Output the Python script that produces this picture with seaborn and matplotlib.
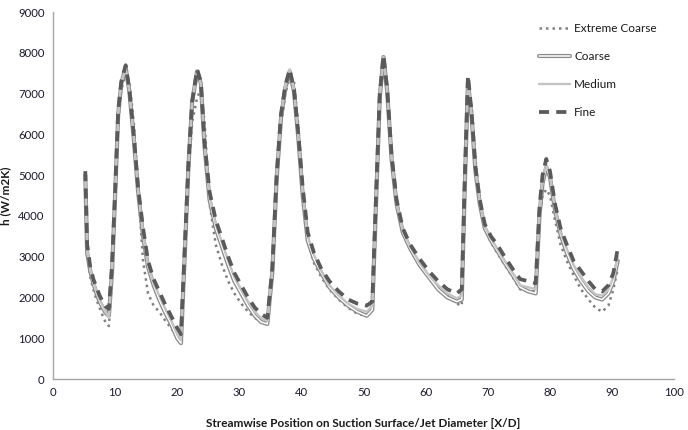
import matplotlib
matplotlib.use("Agg")
import matplotlib.pyplot as plt
from matplotlib.lines import Line2D
import matplotlib.patheffects as pe
import seaborn as sns
import pandas as pd

x_pos = [5.2, 5.5, 6.0, 6.5, 7.0, 7.5, 8.0, 8.5, 9.0, 9.5, 10.0, 10.5, 11.0, 11.7, 12.3, 13.0, 13.7, 14.5, 15.3, 16.2,
         17.1, 18.0, 19.0, 20.0, 20.6, 21.2, 21.8, 22.4, 23.2, 23.8, 24.4, 25.2, 26.2, 27.2, 28.2, 29.2, 30.3, 31.4, 32.5, 33.5,
         34.5, 35.3, 36.0, 36.7, 37.4, 38.1, 38.8, 39.5, 40.2, 41.0, 42.0, 43.2, 44.5, 46.0, 47.5, 49.0, 50.5, 51.4, 52.0, 52.6,
         53.2, 53.8, 54.5, 55.3, 56.3, 57.5, 59.0, 60.5, 62.0, 63.5, 65.0, 65.8, 66.3, 66.8, 67.4, 68.0, 68.7, 69.5, 70.5, 71.5,
         72.7, 74.0, 75.2, 76.5, 77.7, 78.3, 78.8, 79.4, 80.0, 80.8, 81.7, 82.7, 83.8, 85.0, 86.2, 87.3, 88.4, 89.4, 90.2, 90.9]

extreme_coarse = [4900, 3000, 2500, 2200, 1950, 1750, 1550, 1380, 1300, 2500, 4300, 6300, 7100, 7500, 7300, 6300, 4700, 2900, 2100, 1800,
                  1650, 1450, 1250, 1050, 950, 2900, 5000, 6300, 6900, 7100, 6300, 4300, 3300, 2800, 2400, 2100, 1850, 1650, 1500, 1400,
                  1380, 2800, 4800, 6200, 7000, 7400, 7300, 6200, 4700, 3400, 2850, 2500, 2200, 1950, 1750, 1600, 1550, 1800, 4600, 7100,
                  7800, 7200, 5600, 4400, 3650, 3200, 2800, 2500, 2250, 2050, 1850, 1800, 4600, 7000, 6700, 5400, 4400, 3700, 3350, 3100,
                  2800, 2500, 2200, 2150, 2150, 3900, 4500, 4650, 4500, 3900, 3300, 2900, 2550, 2200, 1950, 1750, 1650, 1800, 2200, 2700]

coarse = [5000, 3100, 2650, 2350, 2100, 1900, 1750, 1620, 1550, 2600, 4500, 6500, 7250, 7650, 7050, 5900, 4600, 3500, 2750, 2300,
          1950, 1650, 1350, 1000, 880, 3000, 5200, 6800, 7550, 7250, 5700, 4400, 3700, 3250, 2800, 2400, 2100, 1800, 1550, 1400,
          1350, 2600, 4900, 6400, 7150, 7550, 7050, 5900, 4500, 3400, 2950, 2600, 2250, 2000, 1800, 1650, 1550, 1700, 4300, 6900,
          7900, 7050, 5400, 4300, 3600, 3200, 2800, 2500, 2200, 2000, 1900, 1950, 4800, 7300, 6400, 5100, 4300, 3700, 3400, 3150,
          2850, 2550, 2250, 2150, 2100, 4000, 4800, 5200, 4950, 4150, 3550, 3100, 2700, 2400, 2150, 2000, 1950, 2100, 2400, 2900]

medium = [5050, 3200, 2700, 2400, 2150, 1950, 1800, 1650, 1500, 2700, 4550, 6550, 7300, 7600, 7050, 5950, 4650, 3600, 2800, 2350,
          2050, 1750, 1450, 1100, 950, 3100, 5250, 6800, 7550, 7250, 5750, 4500, 3800, 3350, 2900, 2500, 2200, 1900, 1650, 1500,
          1420, 2650, 4950, 6450, 7200, 7600, 7100, 5950, 4600, 3500, 3050, 2650, 2300, 2050, 1850, 1720, 1650, 1800, 4400, 6950,
          7900, 7050, 5450, 4350, 3650, 3250, 2850, 2550, 2300, 2100, 1980, 2050, 4900, 7350, 6450, 5150, 4350, 3750, 3450, 3200,
          2900, 2600, 2300, 2250, 2200, 4100, 4900, 5250, 5000, 4200, 3600, 3200, 2800, 2500, 2250, 2080, 2050, 2200, 2500, 3000]

fine = [5100, 3300, 2750, 2450, 2250, 2050, 1900, 1780, 1720, 2800, 4600, 6600, 7300, 7700, 7100, 6000, 4700, 3700, 2900, 2450,
        2150, 1850, 1550, 1250, 1100, 3200, 5300, 6800, 7600, 7300, 5800, 4600, 3900, 3450, 3000, 2600, 2300, 2000, 1750, 1600,
        1500, 2700, 5000, 6500, 7200, 7600, 7100, 6000, 4700, 3600, 3100, 2700, 2400, 2150, 1950, 1850, 1800, 1900, 4500, 7000,
        7950, 7100, 5500, 4400, 3700, 3300, 2950, 2650, 2400, 2200, 2100, 2200, 5000, 7450, 6500, 5200, 4400, 3800, 3500, 3300,
        3000, 2700, 2450, 2400, 2350, 4200, 5000, 5400, 5100, 4300, 3700, 3300, 2900, 2650, 2400, 2200, 2150, 2300, 2600, 3200]

series_names = ["Extreme Coarse", "Coarse", "Medium", "Fine"]
x_ticks = [0, 10, 20, 30, 40, 50, 60, 70, 80, 90, 100]
y_ticks = [0, 1000, 2000, 3000, 4000, 5000, 6000, 7000, 8000, 9000]

df = pd.DataFrame({"x": x_pos, "Extreme Coarse": extreme_coarse, "Coarse": coarse,
                   "Medium": medium, "Fine": fine})

sns.set_theme(style="white")
plt.rcParams['font.family'] = ['Lato', 'DejaVu Sans']

fig = plt.figure(figsize=(6.88, 4.30), dpi=100)
ax = fig.add_axes([0.077, 0.1186, 0.903, 0.853])

c_ext = "#808080"
c_coarse = "#8c8c8c"
c_med = "#c4c4c4"
c_fine = "#5a5a5a"

ext_ls = (0, (1, 1.6))
fine_ls = (0, (2.7, 1.9))
coarse_pe = [pe.Stroke(linewidth=3.0, foreground=c_coarse), pe.Normal()]

sns.lineplot(data=df, x="x", y="Extreme Coarse", ax=ax, color=c_ext, lw=1.8,
             linestyle=ext_ls, estimator=None, sort=False)
sns.lineplot(data=df, x="x", y="Coarse", ax=ax, color="white", lw=1.1,
             path_effects=coarse_pe, estimator=None, sort=False)
sns.lineplot(data=df, x="x", y="Medium", ax=ax, color=c_med, lw=1.7,
             estimator=None, sort=False)
sns.lineplot(data=df, x="x", y="Fine", ax=ax, color=c_fine, lw=2.7,
             linestyle=fine_ls, estimator=None, sort=False)

ax.set_xlim(0, 100)
ax.set_ylim(0, 9000)
ax.set_xticks(x_ticks)
ax.set_yticks(y_ticks)
ax.tick_params(axis="both", length=0, labelsize=8.2, colors="#1a1a2e", pad=6)
ax.set_xlabel("Streamwise Position on Suction Surface/Jet Diameter [X/D]",
              fontsize=8.5, fontweight="bold", color="#1a1a1a")
ax.set_ylabel("h (W/m2K)", fontsize=8.5, fontweight="bold", color="#1a1a1a")
ax.yaxis.set_label_coords(-0.068, 0.5)
ax.xaxis.set_label_coords(0.5, -0.105)
for s in ["top", "right"]:
    ax.spines[s].set_visible(False)
for s in ["left", "bottom"]:
    ax.spines[s].set_color("#a6a6a6")
    ax.spines[s].set_linewidth(1.0)

h_ext = Line2D([], [], color=c_ext, lw=1.8, linestyle=ext_ls)
h_coarse = Line2D([], [], color="white", lw=1.1, path_effects=coarse_pe)
h_med = Line2D([], [], color=c_med, lw=1.7)
h_fine = Line2D([], [], color=c_fine, lw=2.7, linestyle=fine_ls)
leg = ax.legend([h_ext, h_coarse, h_med, h_fine], series_names,
                loc="upper left", bbox_to_anchor=(0.765, 1.0), frameon=False,
                fontsize=8.5, labelspacing=1.45, handlelength=2.6, handletextpad=0.4)
for t in leg.get_texts():
    t.set_color("#1a1a1a")

fig.savefig("out.png", dpi=100)
